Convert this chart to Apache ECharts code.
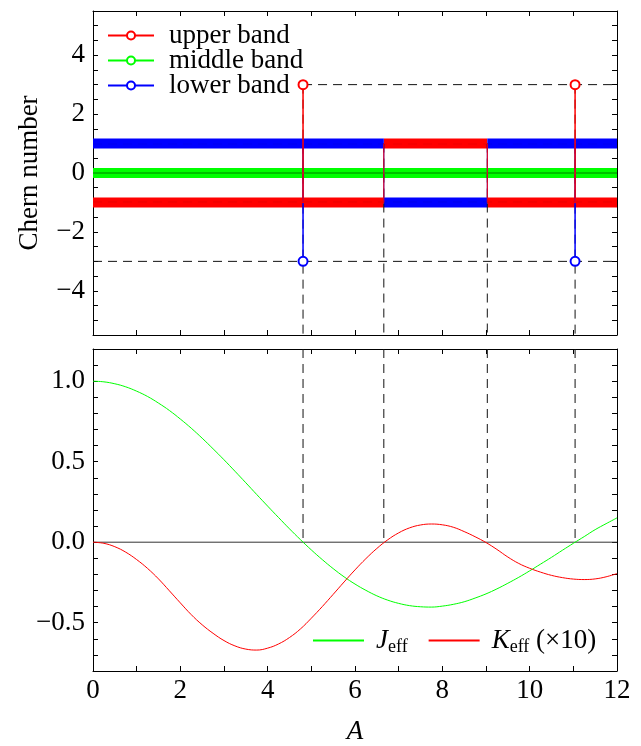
<!DOCTYPE html>
<html><head><meta charset="utf-8">
<script src="https://cdn.jsdelivr.net/npm/echarts@6/dist/echarts.min.js"></script>
<style>html,body{margin:0;padding:0;background:#fff}#c{width:641px;height:746px}</style>
</head><body><div id="c"></div>
<script>
// ---------- data ----------
const A_vals = [0,0.25,0.5,0.75,1,1.25,1.5,1.75,2,2.25,2.5,2.75,3,3.25,3.5,3.75,4,4.25,4.5,4.75,5,5.25,5.5,5.75,6,6.25,6.5,6.75,7,7.25,7.5,7.75,8,8.25,8.5,8.75,9,9.25,9.5,9.75,10,10.25,10.5,10.75,11,11.25,11.5,11.75,12];
const J_eff = [1.000,0.996,0.984,0.965,0.938,0.905,0.864,0.818,0.765,0.708,0.646,0.580,0.512,0.441,0.369,0.296,0.224,0.153,0.083,0.016,-0.048,-0.108,-0.164,-0.215,-0.260,-0.299,-0.333,-0.360,-0.380,-0.394,-0.401,-0.403,-0.397,-0.386,-0.370,-0.347,-0.321,-0.290,-0.255,-0.218,-0.178,-0.136,-0.094,-0.050,-0.007,0.035,0.078,0.115,0.151];
const K_eff_x10 = [0,-0.007,-0.028,-0.062,-0.108,-0.163,-0.228,-0.302,-0.377,-0.450,-0.513,-0.566,-0.611,-0.644,-0.664,-0.670,-0.658,-0.632,-0.592,-0.539,-0.472,-0.400,-0.324,-0.247,-0.172,-0.102,-0.039,0.015,0.058,0.089,0.107,0.113,0.108,0.093,0.066,0.034,-0.002,-0.045,-0.092,-0.132,-0.162,-0.186,-0.206,-0.220,-0.229,-0.232,-0.228,-0.215,-0.195];

const bandEdges = [0, 4.81, 6.66, 9.03, 11.04, 12];
const upperPlateau = [-1, -1, 1, -1, -1];
const middlePlateau = [0, 0, 0, 0, 0];
const lowerPlateau = [1, 1, -1, 1, 1];
const spikeA = [4.81, 11.04];
const upperSpike = [3, 3];
const middleSpike = [0, 0];
const lowerSpike = [-3, -3];

const bandNames = ['upper band', 'middle band', 'lower band'];
const xTickLabels = [0, 2, 4, 6, 8, 10, 12];
const chernTickLabels = [-4, -2, 0, 2, 4];
const effTickLabels = [-0.5, 0, 0.5, 1.0];

// ---------- build ----------
const FONT = '"Liberation Serif", "Times New Roman", serif';
const FS = 27;
const RED = '#ff0000', GREEN = '#00ff00', BLUE = '#0000ff';
const X_MIN = 0, X_MAX = 12, C_MIN = -5.5, C_MAX = 5.5, E_MIN = -0.8, E_MAX = 1.2;

function minus(v, d) {
  const s = d === undefined ? String(Math.abs(v)) : Math.abs(v).toFixed(d);
  return (v < 0 ? '\u2212' : '') + s;
}
function xAx(gridIndex, pos, labels) {
  return {
    type: 'value', gridIndex, position: pos, min: X_MIN, max: X_MAX, interval: 1,
    axisLine: { show: true, onZero: false, lineStyle: { color: '#000', width: 1 } },
    axisTick: { show: true, inside: true, length: 5, lineStyle: { color: '#000' } },
    axisLabel: labels ? { show: true, customValues: xTickLabels, margin: 6, color: '#000', fontFamily: FONT, fontSize: FS } : { show: false },
    splitLine: { show: false },
    name: labels ? 'A' : '', nameLocation: 'middle', nameGap: 47,
    nameTextStyle: { fontFamily: FONT, fontSize: FS, fontStyle: 'italic', color: '#000' }
  };
}
function yAx(gridIndex, pos, min, max, interval, labels, fmt, name) {
  return {
    type: 'value', gridIndex, position: pos, min, max, interval,
    axisLine: { show: true, onZero: false, lineStyle: { color: '#000', width: 1 } },
    axisTick: { show: true, inside: true, length: 5, lineStyle: { color: '#000' } },
    axisLabel: labels ? { show: true, customValues: labels, formatter: fmt, margin: 8, color: '#000', fontFamily: FONT, fontSize: FS } : { show: false },
    splitLine: { show: false },
    name: name || '', nameLocation: 'middle', nameGap: 50, nameRotate: 90,
    nameTextStyle: { fontFamily: FONT, fontSize: FS, color: '#000' }
  };
}

const series = [];
const colors = [RED, GREEN, BLUE];
const plateaus = [upperPlateau, middlePlateau, lowerPlateau];
const spikes = [upperSpike, middleSpike, lowerSpike];

// thin connecting lines with spike markers (first so legend uses them)
[2, 1, 0].forEach(b => {
  const pl = plateaus[b], sp = spikes[b];
  const pts = [{ value: [bandEdges[0], pl[0]], symbol: 'none' }];
  for (let i = 1; i < bandEdges.length - 1; i++) {
    const e = bandEdges[i];
    pts.push({ value: [e, pl[i - 1]], symbol: 'none' });
    const k = spikeA.indexOf(e);
    if (k >= 0) pts.push(sp[k] !== pl[i - 1] ? { value: [e, sp[k]] } : { value: [e, sp[k]], symbol: 'none' });
    pts.push({ value: [e, pl[i]], symbol: 'none' });
  }
  pts.push({ value: [bandEdges[bandEdges.length - 1], pl[pl.length - 1]], symbol: 'none' });
  series.push({
    type: 'line', name: bandNames[b], xAxisIndex: 0, yAxisIndex: 0, data: pts,
    symbol: 'emptyCircle', symbolSize: 9, showSymbol: true, z: 6,
    lineStyle: { color: colors[b], width: 1 },
    itemStyle: { color: colors[b], borderWidth: 1.5 },
    silent: true, animation: false
  });
});
// thick plateau bands
[0, 1, 2].forEach(b => {
  const pl = plateaus[b];
  for (let i = 0; i < pl.length; i++) {
    series.push({
      type: 'line', name: bandNames[b], xAxisIndex: 0, yAxisIndex: 0,
      data: [[bandEdges[i], pl[i]], [bandEdges[i + 1], pl[i]]],
      symbol: 'none', z: 2, lineStyle: { color: colors[b], width: 10, cap: 'butt' },
      itemStyle: { color: colors[b] }, silent: true, animation: false
    });
  }
});

function guide(xi, yi, p0, p1, dashed, color) {
  series.push({
    type: 'line', xAxisIndex: xi, yAxisIndex: yi, data: [p0, p1], symbol: 'none', z: 4,
    lineStyle: { color: color || '#111', width: 1, type: dashed ? [9, 6] : 'solid' },
    silent: true, animation: false
  });
}
// top panel guides
const levels = Array.from(new Set(upperPlateau.concat(lowerPlateau))).filter(v => v !== 0);
levels.forEach(v => guide(0, 0, [X_MIN, v], [X_MAX, v], true));
guide(0, 0, [spikeA[0], upperSpike[0]], [X_MAX, upperSpike[0]], true);
guide(0, 0, [X_MIN, lowerSpike[0]], [X_MAX, lowerSpike[0]], true);
guide(0, 0, [X_MIN, 0], [X_MAX, 0], false, '#000');
for (let i = 1; i < bandEdges.length - 1; i++) {
  const e = bandEdges[i];
  const k = spikeA.indexOf(e);
  const top = k >= 0 ? upperSpike[k] : Math.max(upperPlateau[i - 1], lowerPlateau[i - 1]);
  guide(0, 0, [e, top], [e, C_MIN], true);
  guide(2, 2, [e, E_MAX], [e, 0], true);
}
guide(2, 2, [X_MIN, 0], [X_MAX, 0], false, '#333');

series.push({
  type: 'line', name: 'Jeff', xAxisIndex: 2, yAxisIndex: 2,
  data: A_vals.map((a, i) => [a, J_eff[i]]), smooth: 0.4, symbol: 'none', z: 5,
  lineStyle: { color: GREEN, width: 1 }, itemStyle: { color: GREEN }, animation: false
});
series.push({
  type: 'line', name: 'Keff', xAxisIndex: 2, yAxisIndex: 2,
  data: A_vals.map((a, i) => [a, K_eff_x10[i]]), smooth: 0.4, symbol: 'none', z: 5,
  lineStyle: { color: RED, width: 1 }, itemStyle: { color: RED }, animation: false
});

const option = {
  animation: false,
  backgroundColor: '#fff',
  grid: [
    { left: 93, right: 24, top: 11, height: 324 },
    { left: 93, right: 24, top: 349, height: 324 }
  ],
  xAxis: [xAx(0, 'bottom', false), xAx(0, 'top', false), xAx(1, 'bottom', true), xAx(1, 'top', false)],
  yAxis: [
    yAx(0, 'left', C_MIN, C_MAX, 0.5, chernTickLabels, v => minus(v), 'Chern number'),
    yAx(0, 'right', C_MIN, C_MAX, 0.5, null),
    yAx(1, 'left', E_MIN, E_MAX, 0.1, effTickLabels, v => minus(v, 1)),
    yAx(1, 'right', E_MIN, E_MAX, 0.1, null)
  ],
  legend: [
    {
      data: bandNames, orient: 'vertical', left: 107, top: 22, padding: 0, itemGap: -2,
      itemWidth: 46, itemHeight: 10, selectedMode: false,
      textStyle: { fontFamily: FONT, fontSize: FS, color: '#000', lineHeight: 22, padding: [0, 0, 0, 10] }
    },
    {
      data: ['Jeff', 'Keff'], orient: 'horizontal', left: 312, top: 627, padding: 0, itemGap: 20,
      itemWidth: 51, itemHeight: 10, selectedMode: false,
      itemStyle: { opacity: 0 },
      formatter: n => n === 'Jeff' ? '{i|J}{s|eff}' : '{i|K}{s|eff}{n| (\u00d710)}',
      textStyle: {
        fontFamily: FONT, fontSize: FS, color: '#000', padding: [0, 0, 0, 7],
        rich: {
          i: { fontFamily: FONT, fontSize: FS, fontStyle: 'italic', color: '#000' },
          s: { fontFamily: FONT, fontSize: 18, color: '#000', padding: [14, 0, 0, 0] },
          n: { fontFamily: FONT, fontSize: FS, color: '#000' }
        }
      }
    }
  ],
  series
};
const chart = echarts.init(document.getElementById('c'), null, { renderer: 'canvas' });
chart.setOption(option);
</script></body></html>
